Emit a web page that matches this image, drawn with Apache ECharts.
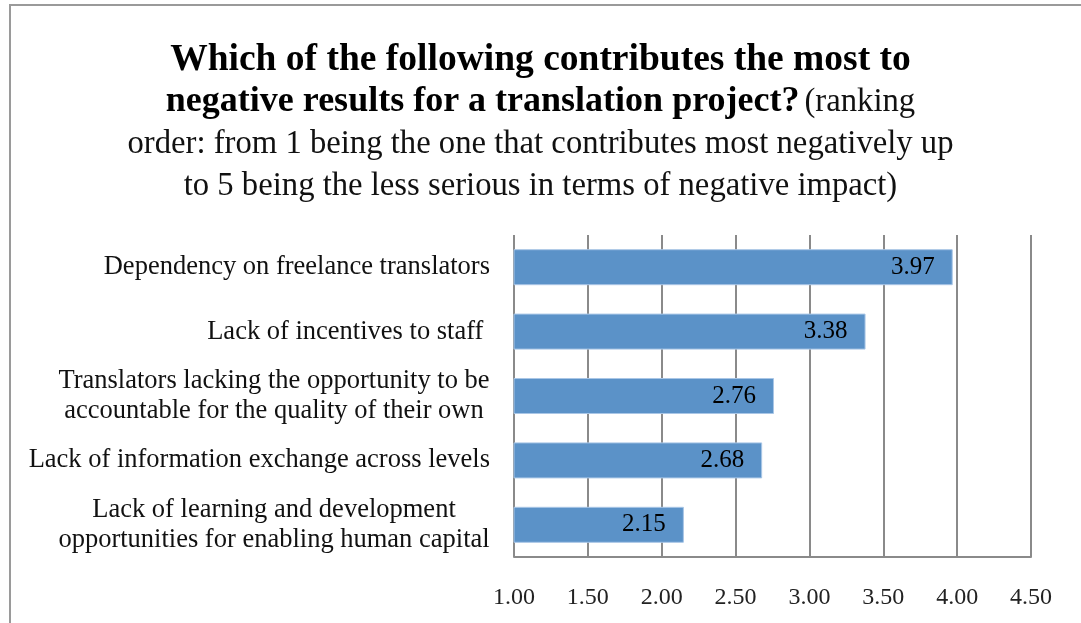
<!DOCTYPE html>
<html>
<head>
<meta charset="utf-8">
<script src="https://cdn.jsdelivr.net/npm/echarts@6/dist/echarts.min.js"></script>
<style>
  html, body { margin: 0; padding: 0; background: #fff; }
  #frame {
    position: absolute; left: 9px; top: 4px; width: 1100px; height: 650px;
    border-left: 2px solid #9a9a9a; border-top: 2px solid #9a9a9a;
  }
  #chart { position: absolute; left: 0; top: 0; width: 1081px; height: 623px; }
</style>
</head>
<body>
<div id="frame"></div>
<div id="chart"></div>
<script>
const categories = [
  'Dependency on freelance translators',
  'Lack of incentives to staff ',
  'Translators lacking the opportunity to be\naccountable for the quality of their own',
  'Lack of information exchange across levels',
  'Lack of learning and development\nopportunities for enabling human capital'
]
const scores = [3.97, 3.38, 2.76, 2.68, 2.15]
const axisMin = 1.0
const axisMax = 4.5
const axisStep = 0.5

const serif = '"Liberation Serif", "DejaVu Serif", serif'
const labelSize = 26.5

// measure text so two-line labels can be centred on their longer line
const ctx = document.createElement('canvas').getContext('2d')
ctx.font = labelSize + 'px ' + serif
function lineWidth(s) { return Math.ceil(ctx.measureText(s).width) }

function blockWidth(label) {
  return Math.max(...label.split('\n').map(lineWidth))
}

const chart = echarts.init(document.getElementById('chart'))

chart.setOption({
  animation: false,
  title: {
    text: '{b1|Which of the following contributes the most to}\n' +
      '{b|negative results for a translation project?} {n|(ranking}\n' +
      '{n|order: from 1 being the one that contributes most negatively up}\n' +
      '{n|to 5 being the less serious in terms of negative impact)}',
    left: 'center',
    top: 34,
    textStyle: {
      rich: {
        b1: { fontFamily: serif, fontWeight: 'bold', fontSize: 37.5, color: '#000', lineHeight: 42 },
        b: { fontFamily: serif, fontWeight: 'bold', fontSize: 36, color: '#000', lineHeight: 42 },
        n: { fontFamily: serif, fontWeight: 'normal', fontSize: 32.7, color: '#111', lineHeight: 42 }
      }
    }
  },
  grid: { left: 514, right: 50, top: 235, bottom: 66, containLabel: false },
  xAxis: {
    type: 'value',
    min: axisMin,
    max: axisMax,
    interval: axisStep,
    axisLine: { show: true, lineStyle: { color: '#8a8a8a', width: 2 } },
    axisTick: { show: false },
    splitLine: { show: true, lineStyle: { color: '#8a8a8a', width: 2 } },
    axisLabel: {
      fontFamily: serif, fontSize: 24, color: '#222', margin: 29,
      formatter: (v) => v.toFixed(2)
    }
  },
  yAxis: {
    type: 'category',
    inverse: true,
    data: categories,
    axisLine: { show: false },
    axisTick: { show: false },
    axisLabel: {
      margin: 24,
      formatter: (v) => {
        const lines = v.split('\n')
        if (lines.length === 1) return '{r|' + v + '}'
        return lines.map((l) => '{c|' + l + '}').join('\n')
      },
      rich: {
        r: { fontFamily: serif, fontSize: labelSize, color: '#111', lineHeight: 30 },
        c: {
          fontFamily: serif, fontSize: labelSize, color: '#111', lineHeight: 30,
          align: 'center',
          width: Math.max(...categories.filter((c) => c.includes('\n')).map(blockWidth))
        }
      }
    }
  },
  series: [
    {
      type: 'bar',
      data: scores,
      barWidth: 36,
      itemStyle: { color: '#5b92c8', borderColor: '#a9c6e6', borderWidth: 1 },
      label: {
        show: true,
        position: 'insideRight',
        distance: 18,
        fontFamily: serif,
        fontSize: 25,
        color: '#000',
        formatter: (p) => p.value.toFixed(2)
      }
    }
  ]
})
</script>
</body>
</html>
